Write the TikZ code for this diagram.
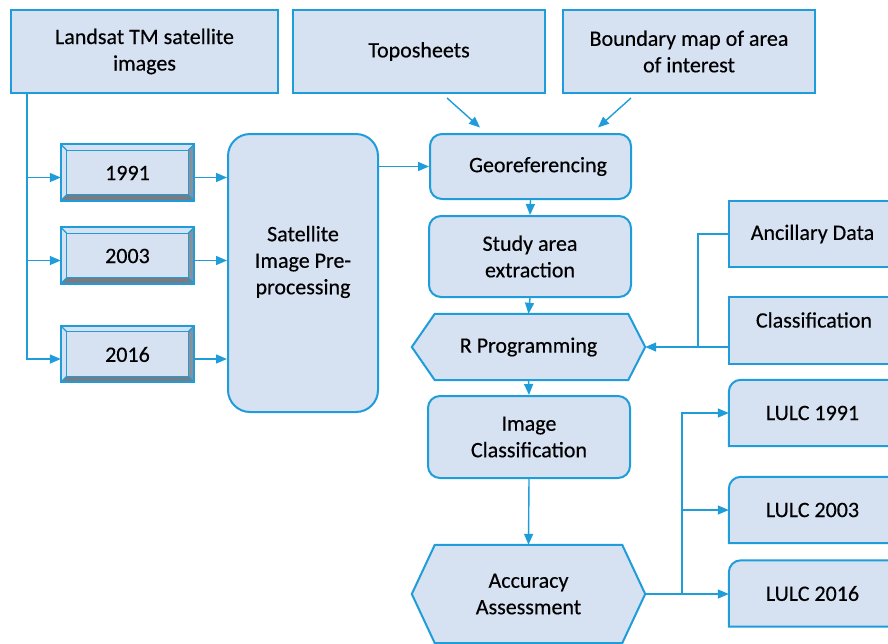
\documentclass[tikz,border=0pt]{standalone}
\usepackage{fontspec}
\setmainfont[FakeBold=0.35]{Carlito}
\usetikzlibrary{arrows.meta,backgrounds}
\definecolor{bl}{RGB}{30,157,218}
\definecolor{fl}{RGB}{214,225,242}
\definecolor{bev}{RGB}{120,123,130}
\newcommand\bevelbox[1]{%
 \fill[bev] (#1.south west) -- (#1.south east) -- ([shift={(-6pt,6pt)}]#1.south east) -- ([shift={(6pt,6pt)}]#1.south west) -- cycle;
 \fill[bev!85] (#1.south east) -- (#1.north east) -- ([shift={(-6pt,-6pt)}]#1.north east) -- ([shift={(-6pt,6pt)}]#1.south east) -- cycle;
 \draw[bl, line width=1.3pt] ([shift={(6pt,6pt)}]#1.south west) rectangle ([shift={(-6pt,-6pt)}]#1.north east);
 \draw[bl, line width=1.1pt] (#1.south west) -- ++(6pt,6pt) (#1.south east) -- ++(-6pt,6pt) (#1.north east) -- ++(-6pt,-6pt) (#1.north west) -- ++(6pt,-6pt);
 \draw[bl, line width=2pt] (#1.south west) rectangle (#1.north east);
}
\begin{document}
\begin{tikzpicture}[x=1pt,y=-1pt,
 every node/.style={font=\fontsize{22}{26.5}\selectfont, align=center, inner sep=0pt},
 sqbox/.style={draw=bl, fill=fl, line width=2pt},
 rbox/.style={draw=bl, fill=fl, line width=2pt, rounded corners=12pt},
 yearbox/.style={fill=fl, minimum width=133pt, minimum height=56pt},
 conn/.style={draw=bl, line width=1.4pt},
 arr/.style={conn, -{Triangle[length=11pt,width=9pt]}},
]
\useasboundingbox (0,0) rectangle (888,643);
\clip (0,0) rectangle (888,643);

% top inputs
\node[sqbox, minimum width=267pt, minimum height=83pt] (landsat) at (144.5,51.5) {Landsat TM satellite\\images};
\node[sqbox, minimum width=252pt, minimum height=83pt] (topo) at (419,51.5) {Toposheets};
\node[sqbox, minimum width=252pt, minimum height=83pt] (bound) at (689,51.5) {Boundary map of area\\of interest};

% year boxes
\node[yearbox] (y1991) at (127.5,172.5) {};
\bevelbox{y1991}
\node (t1991) at (127.5,173) {1991};
\node[yearbox] (y2003) at (127.5,255.5) {};
\bevelbox{y2003}
\node (t2003) at (127.5,256) {2003};
\node[yearbox] (y2016) at (127.5,354) {};
\bevelbox{y2016}
\node (t2016) at (127.5,354.5) {2016};

% satellite preprocessing
\node[rbox, minimum width=150pt, minimum height=278pt, rounded corners=22pt] (sat) at (303,273) {};
\node (satt) at (303,262) {Satellite\\Image Pre-\\processing};

% main column
\node[rbox, minimum width=201pt, minimum height=65pt] (geo) at (530.5,166.5) {};
\node (geot) at (538,166.5) {Georeferencing};
\node[rbox, minimum width=202pt, minimum height=81pt] (study) at (530,256.5) {Study area\\extraction};
\node[minimum width=233pt, minimum height=66pt] (rprog) at (528.5,347) {R Programming};
\node[rbox, minimum width=202pt, minimum height=82pt] (imgc) at (529,437) {Image\\Classification};
\node[minimum width=233pt, minimum height=98pt] (acc) at (528.5,594) {Accuracy\\Assessment};

% right column
\node[sqbox, minimum width=167pt, minimum height=66pt] (anc) at (812.5,234) {Ancillary Data};
\node[sqbox, minimum width=167pt, minimum height=67pt] (cls) at (812.5,330.5) {};
\node (clst) at (814,320) {Classification};
\node[minimum width=167pt, minimum height=66pt] (l91) at (812.5,413) {LULC 1991};
\node[minimum width=167pt, minimum height=66pt] (l03) at (812.5,510) {LULC 2003};
\node[minimum width=167pt, minimum height=66pt] (l16) at (812.5,593.5) {LULC 2016};

\begin{pgfonlayer}{background}
 \filldraw[sqbox, line join=miter] (rprog.west) -- ([xshift=23pt]rprog.north west) -- ([xshift=-17pt]rprog.north east) -- (rprog.east) -- ([xshift=-17pt]rprog.south east) -- ([xshift=23pt]rprog.south west) -- cycle;
 \filldraw[sqbox, line join=miter] (acc.west) -- ([xshift=23pt]acc.north west) -- ([xshift=-23pt]acc.north east) -- (acc.east) -- ([xshift=-23pt]acc.south east) -- ([xshift=23pt]acc.south west) -- cycle;
 \foreach \n in {l91,l03,l16}{
  \filldraw[sqbox] (\n.south west) -- ([yshift=-12pt]\n.north west) arc[start angle=180,end angle=90,radius=12pt] -- (\n.north east) -- (\n.south east) -- cycle;
 }
\end{pgfonlayer}

% connectors: landsat to years
\coordinate (tk) at ([xshift=17pt]landsat.south west);
\draw[arr] (tk) |- ([yshift=-5pt]y1991.west);
\draw[arr] (tk) |- ([yshift=-5pt]y2003.west);
\draw[arr] (tk) |- ([yshift=-5pt]y2016.west);

% years to satellite
\draw[arr] ([yshift=-5pt]y1991.east) -- ([yshift=-5pt]y1991.east -| sat.west);
\draw[arr] ([yshift=-5pt]y2003.east) -- ([yshift=-5pt]y2003.east -| sat.west);
\draw[arr] ([yshift=-5pt]y2016.east) -- ([yshift=-5pt]y2016.east -| sat.west);

% satellite to georeferencing
\draw[arr] (sat.east |- geo.west) -- (geo.west);
\draw[arr] ([shift={(28pt,-4pt)}]topo.south) -- ([shift={(-50.5pt,5.5pt)}]geo.north);
\draw[arr] ([shift={(-58pt,-4pt)}]bound.south) -- ([shift={(67.5pt,5.5pt)}]geo.north);

% main flow
\draw[arr] (geo.south) -- (study.north);
\draw[arr] (study.south) -- (rprog.north);
\draw[arr] (rprog.south) -- (imgc.north);
\draw[arr] (imgc.south) -- (acc.north);

% ancillary / classification to R
\coordinate (j1) at (698,347);
\draw[conn] (anc.west) -| (j1);
\draw[arr] (cls.west |- rprog.east) -- (rprog.east);

% accuracy to LULC
\coordinate (j2) at (682,594);
\draw[arr] (j2) |- (l91.west);
\draw[arr] (j2) |- (l03.west);
\draw[arr] (acc.east) -- (l16.west |- acc.east);
\end{tikzpicture}
\end{document}
